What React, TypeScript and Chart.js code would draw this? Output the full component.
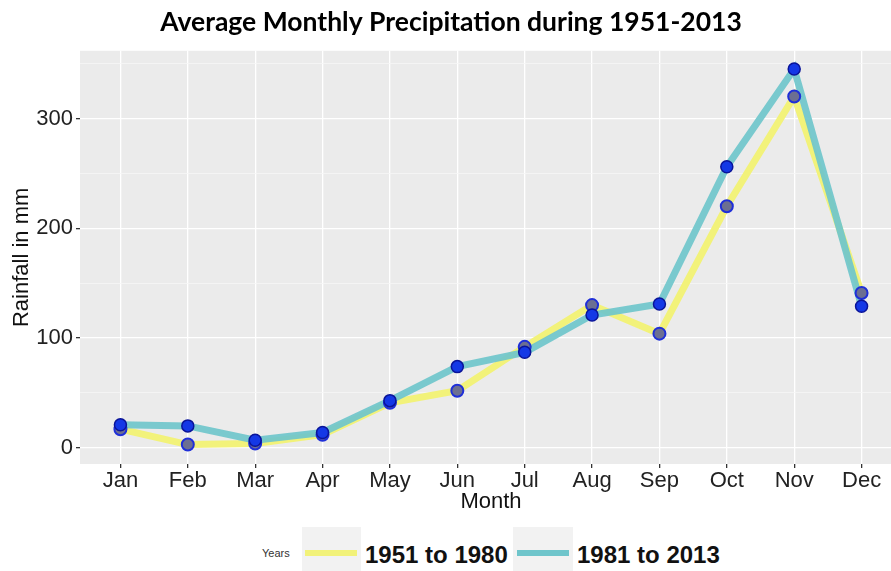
import React, { useEffect, useRef } from "react";
import { Chart, registerables } from "chart.js";

Chart.register(...registerables);

const months = ["Jan", "Feb", "Mar", "Apr", "May", "Jun", "Jul", "Aug", "Sep", "Oct", "Nov", "Dec"];
const rain1951to1980 = [17, 3, 4, 12, 41, 52, 92, 130, 104, 220, 320, 141];
const rain1981to2013 = [21, 20, 7, 14, 43, 74, 87, 121, 131, 256, 345, 129];
const yTicks = [0, 50, 100, 150, 200, 250, 300, 350];
const seriesNames = ["1951 to 1980", "1981 to 2013"];

const YELLOW = "#F2F27A";
const TEAL = "#6FC5CB";

const panelBg = {
  id: "panelBg",
  beforeDraw(chart: any) {
    const { ctx, chartArea } = chart;
    ctx.save();
    ctx.fillStyle = "#EBEBEB";
    ctx.fillRect(chartArea.left, chartArea.top, chartArea.right - chartArea.left, chartArea.bottom - chartArea.top);
    ctx.restore();
  },
};

export default function App() {
  const ref = useRef<HTMLCanvasElement>(null);

  useEffect(() => {
    if (!ref.current) return;
    const toXY = (arr: number[]) => arr.map((v, i) => ({ x: i, y: v }));
    const chart = new Chart(ref.current, {
      type: "line",
      data: {
        datasets: [
          {
            label: seriesNames[0],
            data: toXY(rain1951to1980),
            borderColor: YELLOW,
            borderWidth: 7,
            pointRadius: 0,
            order: 4,
          },
          {
            label: seriesNames[1],
            data: toXY(rain1981to2013),
            borderColor: "rgba(111,197,203,0.92)",
            borderWidth: 7,
            pointRadius: 0,
            order: 3,
          },
          {
            label: seriesNames[0] + " points",
            data: toXY(rain1951to1980),
            showLine: false,
            pointRadius: 6,
            pointBackgroundColor: "#6C6F92",
            pointBorderColor: "#1F2FD8",
            pointBorderWidth: 2,
            order: 2,
          },
          {
            label: seriesNames[1] + " points",
            data: toXY(rain1981to2013),
            showLine: false,
            pointRadius: 6,
            pointBackgroundColor: "#1438E6",
            pointBorderColor: "#0A1499",
            pointBorderWidth: 1.5,
            order: 1,
          },
        ],
      },
      options: {
        animation: false,
        responsive: false,
        maintainAspectRatio: false,
        layout: { padding: { left: 0, right: 8, top: 0, bottom: 0 } },
        plugins: {
          legend: { display: false },
          tooltip: { enabled: false },
          title: {
            display: true,
            text: "Average Monthly Precipitation during 1951-2013",
            color: "#000",
            font: { family: "Lato", size: 26.5, weight: "bold" },
            padding: { top: 7, bottom: 12 },
          },
        },
        scales: {
          x: {
            type: "linear",
            min: -0.6,
            max: 11.6,
            afterBuildTicks: (scale: any) => {
              scale.ticks = months.map((_, i) => ({ value: i }));
            },
            afterFit: (scale: any) => {
              scale.height = 56;
            },
            ticks: {
              callback: (v: any) => months[v] ?? "",
              color: "#222",
              font: { family: "Liberation Sans, Arial", size: 22 },
              padding: 0,
              autoSkip: false,
              maxRotation: 0,
            },
            grid: {
              color: "#FFFFFF",
              lineWidth: 1.3,
              tickColor: "#333",
              tickLength: 4,
            },
            border: { display: false },
            title: {
              display: true,
              text: "Month",
              color: "#111",
              font: { family: "Liberation Sans, Arial", size: 22 },
              padding: { top: 0, bottom: 5 },
            },
          },
          y: {
            type: "linear",
            min: -14.7,
            max: 361.6,
            afterBuildTicks: (scale: any) => {
              scale.ticks = yTicks.map((v) => ({ value: v }));
            },
            afterFit: (scale: any) => {
              scale.width = 80;
            },
            ticks: {
              callback: (v: any) => (v % 100 === 0 ? String(v) : ""),
              color: "#222",
              font: { family: "Liberation Sans, Arial", size: 22 },
              padding: 3,
            },
            grid: {
              color: (c: any) => (c.tick && c.tick.value % 100 === 0 ? "#FFFFFF" : "#F6F6F6"),
              lineWidth: (c: any) => (c.tick && c.tick.value % 100 === 0 ? 1.3 : 0.8),
              tickColor: (c: any) => (c.tick && c.tick.value % 100 === 0 ? "#333" : "rgba(0,0,0,0)"),
              tickLength: 4,
            },
            border: { display: false },
            title: {
              display: true,
              text: "Rainfall in mm",
              color: "#111",
              font: { family: "Liberation Sans, Arial", size: 22 },
              padding: { top: 9, bottom: 0 },
            },
          },
        },
      },
      plugins: [panelBg],
    });
    return () => chart.destroy();
  }, []);

  const legendText: React.CSSProperties = {
    position: "absolute",
    fontFamily: "Liberation Sans, Arial, sans-serif",
    fontWeight: "bold",
    fontSize: 24,
    color: "#111",
    top: 541,
    lineHeight: "28px",
    whiteSpace: "nowrap",
  };

  return (
    <div style={{ position: "fixed", left: 0, top: 0, width: 891, height: 571, overflow: "hidden", background: "#fff" }}>
      <canvas ref={ref} width={910} height={520} style={{ position: "absolute", left: 0, top: 0, width: 910, height: 520 }} />
      <div style={{ position: "absolute", left: 262, top: 546, fontFamily: "Liberation Sans, Arial, sans-serif", fontSize: 11, color: "#333", lineHeight: "14px" }}>Years</div>
      <div style={{ position: "absolute", left: 302, top: 527, width: 59, height: 44, background: "#F2F2F2" }} />
      <div style={{ position: "absolute", left: 305, top: 550, width: 52, height: 6, background: YELLOW }} />
      <div style={{ ...legendText, left: 365 }}>{seriesNames[0]}</div>
      <div style={{ position: "absolute", left: 513, top: 527, width: 60, height: 44, background: "#F2F2F2" }} />
      <div style={{ position: "absolute", left: 517, top: 550, width: 52, height: 6, background: TEAL }} />
      <div style={{ ...legendText, left: 577 }}>{seriesNames[1]}</div>
    </div>
  );
}
